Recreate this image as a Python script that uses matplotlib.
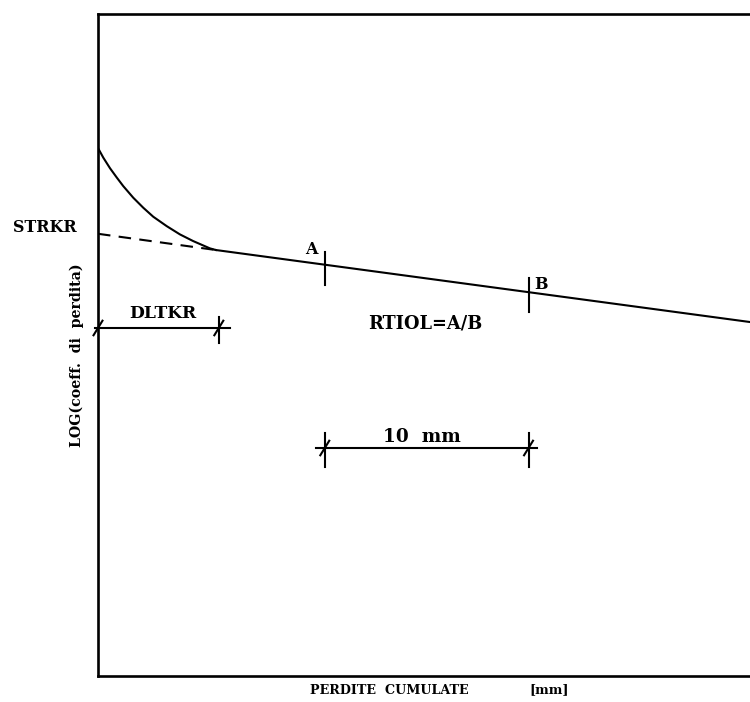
import matplotlib.pyplot as plt

# curve (x in mm, y in arbitrary log units 0..100)
curve_x = [0.0, 0.26, 0.59, 0.92, 1.24, 1.73, 2.22, 2.71, 3.37, 4.02, 4.67, 5.49, 5.78]
curve_y = [79.76, 78.3, 76.7, 75.3, 74.0, 72.25, 70.74, 69.38, 67.96, 66.71, 65.70, 64.60, 64.35]
line_x = [5.78, 32.0]
line_y = [64.35, 53.47]
dash_x = [0.0, 5.78]
dash_y = [66.8, 64.35]

a_x, b_x = 11.13, 21.13
a_tick = [64.05, 59.06]
b_tick = [60.12, 54.98]

dlt_y = 52.57
dlt_x = [-0.15, 6.47]
dlt_end = 5.93
dlt_tick = [54.23, 50.30]

mm_y = 34.44
mm_x = [10.69, 21.57]
mm_tick = [36.71, 31.57]

W, H = 750, 702
fig = plt.figure(figsize=(W / 100, H / 100), dpi=100)
ax = fig.add_axes([98 / W, 26 / H, 1 - 98 / W, (676 - 14) / H])
ax.set_xlim(0, 32)
ax.set_ylim(0, 100)
ax.set_xticks([])
ax.set_yticks([])
ax.spines['right'].set_visible(False)
for s in ['left', 'top', 'bottom']:
    ax.spines[s].set_linewidth(1.9)

lw = 1.5
ax.plot(curve_x, curve_y, color='black', lw=lw)
ax.plot(line_x, line_y, color='black', lw=lw)
ax.plot(dash_x, dash_y, color='black', lw=lw, ls=(0, (6, 4)))

# A and B ticks
ax.plot([a_x, a_x], a_tick, color='black', lw=lw)
ax.plot([b_x, b_x], b_tick, color='black', lw=lw)

# dimension lines
def slash(x, y):
    ax.plot([x - 0.22, x + 0.22], [y - 1.1, y + 1.1], color='black', lw=lw, clip_on=False)

ax.plot(dlt_x, [dlt_y, dlt_y], color='black', lw=lw, clip_on=False)
ax.plot([dlt_end, dlt_end], dlt_tick, color='black', lw=lw)
slash(0.0, dlt_y)
slash(dlt_end, dlt_y)

ax.plot(mm_x, [mm_y, mm_y], color='black', lw=lw)
ax.plot([a_x, a_x], mm_tick, color='black', lw=lw)
ax.plot([b_x, b_x], mm_tick, color='black', lw=lw)
slash(a_x, mm_y)
slash(b_x, mm_y)

font = dict(family='DejaVu Serif', weight='bold', color='black')
ax.text(-2.62, 67.82, 'STRKR', fontsize=11.5, ha='center', va='center', clip_on=False, **font)
ax.text(3.16, 54.83, 'DLTKR', fontsize=12.3, ha='center', va='center', **font)
ax.text(10.49, 64.5, 'A', fontsize=11.5, ha='center', va='center', **font)
ax.text(21.76, 59.2, 'B', fontsize=11.5, ha='center', va='center', **font)
ax.text(16.08, 53.32, 'RTIOL=A/B', fontsize=12.8, ha='center', va='center', **font)
ax.text(15.9, 36.1, '10  mm', fontsize=13.3, ha='center', va='center', **font)

fig.text(389 / W, 1 - 690 / H, 'PERDITE  CUMULATE', fontsize=9.2, ha='center', va='center', **font)
fig.text(549 / W, 1 - 690 / H, '[mm]', fontsize=9.2, ha='center', va='center', **font)
fig.text(77 / W, 1 - 355 / H, 'LOG(coeff.  di  perdita)', fontsize=10.2, rotation=90,
         ha='center', va='center', **font)

fig.savefig('out.png', dpi=100)
